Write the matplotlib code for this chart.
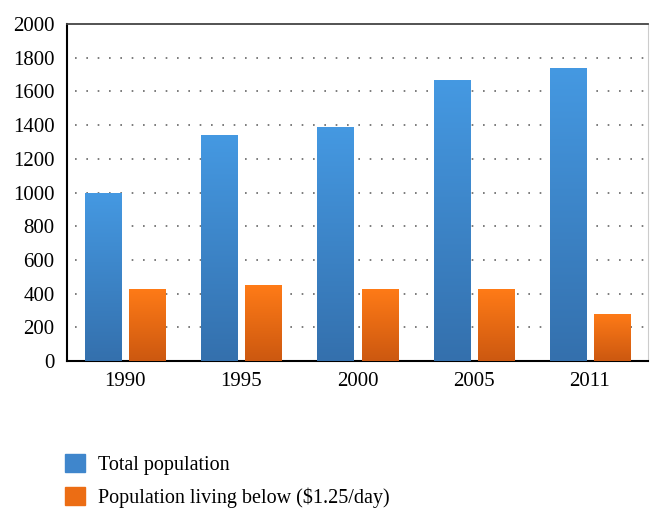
import matplotlib
matplotlib.use("Agg")
import matplotlib.pyplot as plt
import numpy as np
from matplotlib.colors import LinearSegmentedColormap
from matplotlib.patches import Rectangle

years = ["1990", "1995", "2000", "2005", "2011"]
total_population = [1000, 1340, 1390, 1665, 1740]
poor_population = [430, 450, 430, 425, 280]
series_labels = ["Total population", "Population living below ($1.25/day)"]

plt.rcParams['font.family'] = ['Liberation Serif', 'DejaVu Serif']

fig = plt.figure(figsize=(6.62, 5.22), dpi=100)
ax = fig.add_axes([67/662, 1-361/522, (648-67)/662, (361-24)/522])

x = np.arange(len(years))
w = 0.31
off = 0.19
blue_cmap = LinearSegmentedColormap.from_list("b", ["#3470ad", "#4599e2"])
orange_cmap = LinearSegmentedColormap.from_list("o", ["#cc5810", "#ff7b17"])

grad = np.linspace(0, 1, 256).reshape(-1, 1)

def grad_bars(xs, vals, cmap):
    bars = ax.bar(xs, vals, width=w, color=cmap(0.5), edgecolor='none', zorder=2)
    for b in bars:
        x0, y0 = b.get_x(), b.get_y()
        bw, bh = b.get_width(), b.get_height()
        im = ax.imshow(grad, cmap=cmap, origin='lower', aspect='auto',
                       extent=[x0, x0 + bw, y0, y0 + bh], zorder=3)
        im.set_clip_path(b)
    return bars

grad_bars(x - off, total_population, blue_cmap)
grad_bars(x + off, poor_population, orange_cmap)

ax.set_xlim(-0.5, len(years) - 0.5)
ax.set_ylim(0, 2000)
ax.set_yticks(np.arange(0, 2001, 200))
ax.set_xticks(x)
ax.set_xticklabels(years)
ax.tick_params(axis='both', labelsize=15, colors='black')
ax.tick_params(axis='x', length=0, pad=8)
ax.tick_params(axis='y', length=0, pad=9)
for yv in range(200, 2000, 200):
    ax.axhline(yv, color='#666666', linestyle=(2, (1, 5.8)), linewidth=1.2, zorder=1)

ax.spines['left'].set_color('black')
ax.spines['bottom'].set_color('black')
ax.spines['left'].set_linewidth(1.5)
ax.spines['bottom'].set_linewidth(1.5)
ax.spines['top'].set_color('#444444')
ax.spines['top'].set_linewidth(1.3)
ax.spines['right'].set_color('#cccccc')
ax.spines['right'].set_linewidth(0.8)

# legend
handles = [Rectangle((0, 0), 1, 1, color="#3f86cc"), Rectangle((0, 0), 1, 1, color="#ec6d14")]
fig.legend(handles, series_labels, loc='upper left', bbox_to_anchor=(57/662, 1-446/522),
           frameon=False, fontsize=14.5, handlelength=1.0, handleheight=1.0,
           handletextpad=0.65, labelspacing=0.6, borderaxespad=0)

fig.savefig("out.png", dpi=100)
